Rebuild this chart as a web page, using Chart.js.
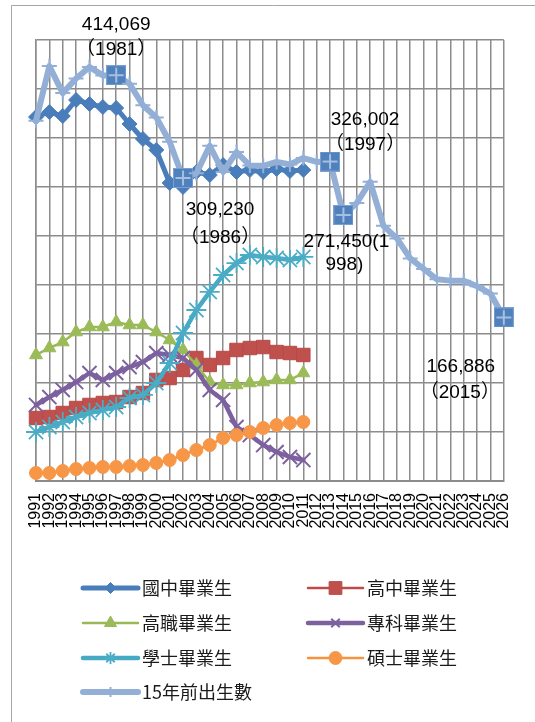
<!DOCTYPE html>
<html>
<head>
<meta charset="utf-8">
<script src="https://cdn.jsdelivr.net/npm/chart.js@4.4.0/dist/chart.umd.min.js"></script>
<style>
body { margin: 0; background: #fff; }
#wrap { position: relative; width: 535px; height: 722px; }
</style>
</head>
<body>
<div id="wrap"><canvas id="myChart" width="535" height="722"></canvas></div>
<script>
// categories
var years = [1991, 1992, 1993, 1994, 1995, 1996, 1997, 1998, 1999, 2000,
    2001, 2002, 2003, 2004, 2005, 2006, 2007, 2008, 2009, 2010,
    2011, 2012, 2013, 2014, 2015, 2016, 2017, 2018, 2019, 2020,
    2021, 2022, 2023, 2024, 2025, 2026];

// series (1991-2011 for graduates, births run to 2026)
var juniorHigh = [371400, 376500, 372400, 388800, 384700, 381600, 380600, 364300, 349000, 337800,
    304100, 300000, 315300, 312200, 322400, 315300, 317300, 315300, 318400, 316300, 317300];
var seniorHigh = [64300, 65300, 69400, 74500, 77600, 79600, 80600, 85700, 89800, 103100,
    105100, 113300, 125500, 118400, 125500, 133700, 135700, 136700, 131600, 130600, 128600];
var vocational = [128600, 135700, 141800, 152000, 157100, 157100, 162200, 159200, 159200, 152000,
    143900, 133700, 118400, 101000, 98000, 98000, 100000, 101000, 103100, 103100, 110200];
var juniorCollege = [77600, 85700, 92900, 101000, 110200, 103100, 110200, 116300, 121400, 130600,
    128600, 125500, 113300, 92900, 82700, 55100, 46900, 36700, 29600, 24500, 21400];
var bachelor = [50000, 55100, 60200, 65300, 69400, 72400, 75500, 84700, 87800, 100000,
    120400, 151000, 174500, 192900, 210200, 222400, 230600, 228600, 227500, 225500, 228600];
var master = [8200, 8200, 10200, 12200, 13300, 14300, 14300, 15300, 16300, 18400,
    21400, 26500, 31600, 36700, 43900, 46900, 50000, 54100, 57100, 59200, 60200];
var births = [367647, 423356, 395796, 410783, 422518, 413881, 414069, 405263, 383439, 371008,
    346208, 309230, 314024, 342031, 315299, 335618, 321932, 321632, 325613, 322938,
    329581, 325545, 326002, 271450, 283661, 305312, 260354, 247530, 227070, 216419,
    205854, 204459, 204414, 198733, 191310, 166886];

// y axis: 0 - 450,000, gridline every 50,000 (no tick labels shown)
var yMin = 0, yMax = 450000, yStep = 50000;

// highlighted births points and their callouts
var noteYears = [1997, 2002, 2013, 2014, 2026];
var noteText = [
    ['414,069', '（1981）'],
    ['309,230', '（1986）'],
    ['326,002', '（1997）'],
    ['271,450(1', '998)'],
    ['166,886', '（2015）']
];
// callout offsets from the point (px)
var noteOffsets = [
    [[0, -50], [0, -25]],
    [[37, 32], [37, 60]],
    [[35, -42], [35, -17]],
    [[3, 27], [1, 50]],
    [[-43, 49], [-44, 75]]
];

var legendCols = [83, 308];
var legendRows = [588, 623, 658, 692];

function makeSquare() {
    var c = document.createElement('canvas');
    c.width = 20;
    c.height = 20;
    var g = c.getContext('2d');
    g.fillStyle = '#4f81bd';
    g.fillRect(0, 0, 20, 20);
    g.strokeStyle = '#7a9fd0';
    g.lineWidth = 1;
    g.strokeRect(0.5, 0.5, 19, 19);
    g.strokeStyle = '#a7bfe0';
    g.lineWidth = 2;
    g.beginPath();
    g.moveTo(10, 2.5); g.lineTo(10, 17.5);
    g.moveTo(2.5, 10); g.lineTo(17.5, 10);
    g.stroke();
    return c;
}
var squareImg = makeSquare();

function isNote(c) {
    return noteYears.indexOf(years[c.dataIndex]) >= 0;
}

var framePlugin = {
    id: 'frame',
    beforeDraw: function (chart) {
        var ctx = chart.ctx;
        ctx.save();
        ctx.strokeStyle = '#a6a6a6';
        ctx.lineWidth = 1;
        ctx.beginPath();
        ctx.moveTo(11.5, 722);
        ctx.lineTo(11.5, 5.5);
        ctx.lineTo(535, 5.5);
        ctx.stroke();
        ctx.restore();
    }
};

var notePlugin = {
    id: 'notes',
    afterDatasetsDraw: function (chart) {
        var meta = chart.getDatasetMeta(6);
        var ctx = chart.ctx;
        ctx.save();
        ctx.font = '19px "Liberation Sans", "Noto Sans CJK TC"';
        ctx.fillStyle = '#000';
        ctx.textAlign = 'center';
        ctx.textBaseline = 'middle';
        noteYears.forEach(function (yr, i) {
            var pt = meta.data[years.indexOf(yr)];
            noteText[i].forEach(function (line, j) {
                var off = noteOffsets[i][j];
                ctx.fillText(line, pt.x + off[0], pt.y + off[1]);
            });
        });
        ctx.restore();
    }
};

var legendPlugin = {
    id: 'boxLegend',
    afterDraw: function (chart) {
        var ctx = chart.ctx;
        ctx.save();
        chart.data.datasets.forEach(function (ds, i) {
            var x0 = legendCols[i % 2];
            var y0 = legendRows[Math.floor(i / 2)];
            ctx.strokeStyle = ds.borderColor;
            ctx.lineWidth = ds.borderWidth;
            ctx.lineCap = 'round';
            ctx.beginPath();
            ctx.moveTo(x0, y0);
            ctx.lineTo(x0 + 55, y0);
            ctx.stroke();
            ctx.lineCap = 'butt';
            ctx.fillStyle = ds.pointBackgroundColor;
            ctx.strokeStyle = ds.pointBorderColor;
            ctx.lineWidth = ds.pointBorderWidth;
            Chart.helpers.drawPoint(ctx, {
                pointStyle: ds.legendStyle,
                radius: ds.legendRadius,
                rotation: 0,
                borderWidth: ds.pointBorderWidth
            }, x0 + 27.5, y0);
            ctx.fillStyle = '#1a1a1a';
            ctx.font = '18px "Noto Sans CJK TC"';
            ctx.textAlign = 'left';
            ctx.textBaseline = 'middle';
            ctx.fillText(ds.label, x0 + 59, y0);
        });
        ctx.restore();
    }
};

var ctx = document.getElementById('myChart').getContext('2d');
var myChart = new Chart(ctx, {
    type: 'line',
    data: {
        labels: years,
        datasets: [{
            label: '國中畢業生',
            data: juniorHigh,
            borderColor: '#4a7ebb',
            borderWidth: 5,
            pointStyle: 'rectRot',
            pointRadius: 7.5,
            pointBackgroundColor: '#4a7ebb',
            pointBorderColor: '#4a7ebb',
            pointBorderWidth: 1,
            legendStyle: 'rectRot',
            legendRadius: 5.5,
            order: 7
        }, {
            label: '高中畢業生',
            data: seniorHigh,
            borderColor: '#be4b48',
            borderWidth: 2.5,
            pointStyle: 'rect',
            pointRadius: 9.5,
            pointBackgroundColor: '#c0504d',
            pointBorderColor: '#b84a47',
            pointBorderWidth: 1,
            legendStyle: 'rect',
            legendRadius: 9,
            order: 6
        }, {
            label: '高職畢業生',
            data: vocational,
            borderColor: '#98b954',
            borderWidth: 2.5,
            pointStyle: 'triangle',
            pointRadius: 7.5,
            pointBackgroundColor: '#9bbb59',
            pointBorderColor: '#9bbb59',
            pointBorderWidth: 1,
            legendStyle: 'triangle',
            legendRadius: 7,
            order: 5
        }, {
            label: '專科畢業生',
            data: juniorCollege,
            borderColor: '#7d60a0',
            borderWidth: 4.5,
            pointStyle: 'crossRot',
            pointRadius: 10,
            pointBackgroundColor: '#7d60a0',
            pointBorderColor: '#7d60a0',
            pointBorderWidth: 2,
            legendStyle: 'crossRot',
            legendRadius: 6,
            order: 4
        }, {
            label: '學士畢業生',
            data: bachelor,
            borderColor: '#46aac5',
            borderWidth: 4.5,
            pointStyle: 'star',
            pointRadius: 10,
            pointBackgroundColor: '#4bacc6',
            pointBorderColor: '#4bacc6',
            pointBorderWidth: 1.8,
            legendStyle: 'star',
            legendRadius: 6,
            order: 3
        }, {
            label: '碩士畢業生',
            data: master,
            borderColor: '#f69240',
            borderWidth: 2.5,
            pointStyle: 'circle',
            pointRadius: 6.5,
            pointBackgroundColor: '#f79646',
            pointBorderColor: '#f79646',
            pointBorderWidth: 1,
            legendStyle: 'circle',
            legendRadius: 6.5,
            order: 2
        }, {
            label: '15年前出生數',
            data: births,
            borderColor: '#93afd6',
            borderWidth: 6,
            pointStyle: function (c) { return isNote(c) ? squareImg : 'cross'; },
            pointRadius: function (c) { return isNote(c) ? 10 : 7.5; },
            pointBackgroundColor: '#93afd6',
            pointBorderColor: '#93afd6',
            pointBorderWidth: 2,
            legendStyle: 'cross',
            legendRadius: 5,
            order: 1
        }]
    },
    options: {
        responsive: false,
        animation: false,
        events: [],
        layout: { padding: { left: 36, right: 18, top: 40, bottom: 0 } },
        elements: {
            line: { tension: 0, borderJoinStyle: 'round', borderCapStyle: 'round' }
        },
        plugins: {
            legend: { display: false },
            tooltip: { enabled: false }
        },
        scales: {
            x: {
                offset: false,
                grid: { color: '#8c8c8c', lineWidth: 1.5, drawTicks: false, offset: false },
                border: { color: '#8c8c8c', width: 2 },
                ticks: {
                    autoSkip: false,
                    minRotation: 90,
                    maxRotation: 90,
                    padding: 12,
                    color: '#000',
                    font: { family: '"Liberation Sans"', size: 16 }
                },
                afterFit: function (s) { s.height = 241; }
            },
            y: {
                min: yMin,
                max: yMax,
                grid: { color: '#8c8c8c', lineWidth: 1.5, drawTicks: false },
                border: { color: '#8c8c8c', width: 1.5 },
                ticks: { stepSize: yStep, display: false },
                afterFit: function (s) { s.width = 0; }
            }
        }
    },
    plugins: [framePlugin, notePlugin, legendPlugin]
});
</script>
</body>
</html>
